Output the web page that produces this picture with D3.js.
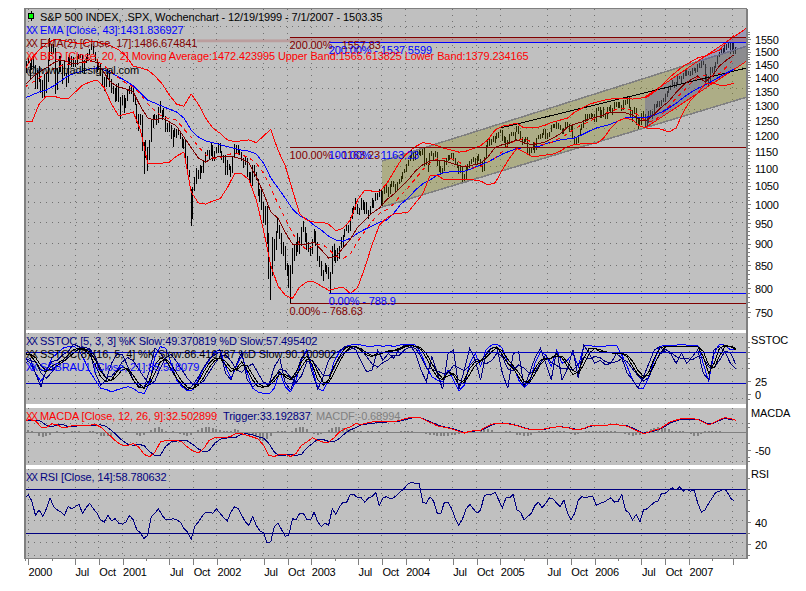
<!DOCTYPE html>
<html>
<head>
<meta charset="utf-8">
<script src="https://cdn.jsdelivr.net/npm/d3@7"></script>
<style>
  html, body { margin: 0; background: #fff; }
  svg { display: block; }
  path, line { shape-rendering: crispEdges; }
  text { font-family: "Liberation Sans", Arial, sans-serif; font-size: 11px; letter-spacing: -0.1px; }
  .grid { stroke: #707070; stroke-dasharray: 1 5; fill: none; }
  .axis path { display: none; }
  .axis line { stroke: #808080; }
  .axis text { fill: #000; font-size: 11px; letter-spacing: -0.2px; }
</style>
</head>
<body>
<div id="container"></div>
<script>
const WIDTH = 806;
const HEIGHT = 591;
const LEFT = 25;
const RIGHT = 747;

// weekly bars, first bar is 12/19/1999
const barLow = [
  1410,1418,1450,1392,1428,1436,1356,1358,1384,1345,1325,1325,1345,1385,1462,1490,1490,1339,1355,1420,1420,1375,1405,1365,1378,1450,1440,1438,1440,1448,1470,1475,1415,1413,1455,1470,1488,1505,1490,1462,1420,1430,1405,1370,1350,1365,1395,1365,1345,1340,1310,1315,1310,1255,1300,
  1275,1290,1315,1340,1340,1312,1300,1240,1215,1235,1150,1082,1130,1092,1125,1180,1225,1250,1235,1240,1275,1250,1262,1210,1210,1210,1188,1165,1195,1192,1200,1188,1160,1158,1130,1082,1075,944,960,1035,1055,1070,1070,1085,1085,1115,1135,1125,1135,1120,1120,1145,
  1145,1145,1125,1115,1080,1080,1095,1075,1085,1130,1145,1145,1140,1120,1100,1110,1075,1065,1048,1050,1075,1065,1022,1005,985,950,945,900,820,775,825,860,885,925,912,875,870,840,825,800,768,830,860,870,880,875,895,928,905,885,880,870,
  875,905,895,860,845,825,815,835,830,820,789,830,860,855,860,865,890,892,915,930,925,930,960,975,985,975,970,985,985,975,975,960,975,990,990,1008,1010,1018,995,990,1028,1030,1018,1028,1045,1045,1030,1035,1055,1060,1068,1086,
  1090,1105,1120,1130,1122,1125,1140,1138,1135,1140,1105,1108,1090,1108,1135,1125,1132,1105,1090,1080,1085,1092,1110,1120,1125,1130,1120,1108,1100,1083,1086,1060,1062,1065,1095,1100,1112,1118,1108,1108,1120,1102,1090,1092,1130,1165,1168,1170,1180,1175,1188,1192,
  1208,1182,1175,1165,1165,1172,1198,1198,1185,1210,1205,1188,1170,1172,1178,1142,1137,1145,1155,1145,1154,1188,1190,1192,1200,1190,1190,1195,1210,1225,1225,1222,1222,1218,1205,1205,1218,1228,1210,1212,1192,1170,1170,1175,1198,1218,1225,1245,1248,1255,1255,1260,
  1245,1245,1280,1258,1258,1262,1255,1255,1280,1275,1268,1280,1295,1290,1290,1280,1285,1300,1305,1290,1262,1245,1270,1235,1219,1235,1235,1260,1228,1224,1240,1265,1255,1265,1290,1295,1295,1298,1310,1312,1330,1345,1355,1365,1360,1365,1375,1395,1375,1395,1405,1405,1408,
  1405,1408,1425,1415,1420,1435,1435,1448,1375,1385,1365,1385,1415,1420,1435,1450,1480,1490,1490,1500,1505,1515,1490,1505,1490,1490
];
const barHigh = [
  1436,1462,1475,1455,1470,1478,1446,1430,1445,1395,1392,1412,1415,1470,1553,1530,1532,1515,1436,1482,1482,1450,1465,1415,1480,1488,1482,1480,1465,1482,1492,1490,1485,1465,1477,1495,1510,1530,1522,1500,1470,1460,1450,1412,1400,1410,1435,1430,1395,1370,1360,1375,1380,1330,1335,
  1335,1325,1355,1368,1376,1360,1335,1305,1270,1270,1268,1180,1185,1165,1185,1255,1268,1270,1268,1296,1315,1285,1290,1265,1240,1240,1235,1218,1225,1220,1225,1215,1195,1190,1185,1135,1095,1040,1045,1075,1100,1095,1110,1105,1125,1148,1155,1155,1175,1170,1150,1165,
  1177,1175,1150,1140,1140,1125,1112,1105,1135,1172,1170,1170,1155,1147,1130,1135,1130,1090,1090,1110,1108,1090,1070,1040,1040,1005,995,995,925,855,915,910,930,965,945,925,905,895,855,850,850,890,900,905,925,915,940,955,940,925,905,895,
  912,935,930,905,870,860,840,855,850,845,835,895,900,885,890,895,915,920,935,945,945,965,990,995,1015,1000,990,1015,1010,1005,1005,985,995,1015,1012,1030,1030,1040,1038,1035,1045,1055,1045,1055,1062,1062,1055,1060,1070,1076,1090,1098,
  1112,1125,1140,1155,1150,1150,1158,1158,1152,1165,1160,1130,1115,1145,1152,1145,1150,1148,1125,1105,1100,1125,1130,1140,1140,1145,1145,1130,1118,1105,1108,1105,1082,1102,1112,1120,1128,1132,1130,1135,1142,1128,1118,1132,1170,1188,1188,1188,1198,1198,1207,1212,
  1218,1218,1198,1195,1185,1205,1212,1212,1212,1230,1230,1215,1195,1190,1195,1195,1160,1165,1180,1178,1192,1200,1205,1208,1220,1220,1208,1212,1235,1238,1238,1245,1240,1235,1222,1225,1243,1243,1238,1235,1235,1198,1195,1200,1222,1237,1250,1270,1270,1272,1275,1272,
  1270,1290,1295,1295,1285,1295,1275,1295,1295,1300,1290,1310,1310,1310,1312,1300,1318,1318,1330,1328,1295,1285,1295,1290,1260,1260,1275,1280,1270,1262,1282,1285,1282,1305,1305,1315,1315,1320,1325,1340,1352,1368,1372,1390,1385,1385,1405,1407,1405,1415,1430,1430,1425,
  1425,1435,1435,1435,1450,1455,1462,1462,1450,1412,1405,1440,1440,1445,1460,1488,1498,1510,1515,1535,1532,1540,1540,1540,1540,1518
];

// overlays, one reading every 4 weeks
const ema43 = [1325,1336,1347,1354,1369,1387,1406,1417,1424,1432,1436,1428,1417,1402,1387,1369,1343,1318,1308,1297,1287,1277,1257,1217,1195,1183,1177,1171,1165,1159,1154,1151,1142,1115,1072,1044,1016,987,969,961,945,933,918,909,906,913,925,935,943,953,958,976,1000,1016,1038,1055,1066,1080,1087,1090,1090,1092,1101,1110,1118,1130,1142,1151,1159,1162,1162,1165,1174,1180,1186,1189,1192,1202,1214,1224,1230,1237,1247,1257,1260,1260,1260,1267,1277,1290,1307,1327,1345,1360,1372,1387,1402,1417,1431];
const ema17 = [1372,1398,1421,1436,1455,1467,1459,1451,1459,1467,1455,1417,1380,1365,1358,1347,1297,1257,1250,1257,1244,1230,1195,1162,1130,1118,1130,1136,1136,1133,1127,1115,1075,1030,979,963,928,899,897,899,904,885,866,870,890,911,940,958,976,989,1011,1027,1046,1066,1092,1110,1121,1124,1121,1115,1107,1104,1110,1115,1133,1162,1171,1177,1186,1177,1171,1174,1180,1192,1205,1227,1237,1244,1254,1260,1267,1277,1277,1274,1267,1250,1250,1270,1294,1314,1345,1372,1391,1406,1383,1406,1444,1467,1487];
const bbMiddle = [1365,1380,1398,1417,1432,1444,1451,1451,1455,1459,1462,1444,1420,1398,1380,1365,1340,1305,1280,1262,1255,1250,1220,1195,1165,1140,1130,1130,1140,1145,1140,1130,1115,1085,1045,1000,963,925,900,885,895,900,887,870,865,876,905,930,955,975,985,1000,1025,1045,1070,1095,1115,1128,1130,1128,1118,1105,1100,1105,1118,1130,1150,1175,1185,1190,1180,1172,1170,1180,1192,1205,1222,1235,1245,1258,1270,1280,1288,1290,1280,1262,1245,1248,1268,1295,1325,1350,1378,1400,1408,1405,1415,1440,1472];
const bbUpper = [1428,1475,1506,1531,1547,1547,1539,1535,1531,1539,1539,1531,1522,1506,1482,1443,1436,1428,1406,1376,1336,1304,1297,1340,1304,1257,1224,1207,1186,1180,1183,1186,1177,1198,1220,1154,1107,1038,974,958,953,953,948,931,938,958,1011,1038,1035,1033,1055,1089,1124,1148,1165,1177,1174,1168,1159,1154,1148,1151,1159,1168,1186,1217,1230,1234,1240,1224,1227,1227,1234,1244,1250,1257,1277,1290,1304,1311,1318,1322,1325,1325,1322,1325,1329,1347,1369,1398,1421,1443,1459,1475,1482,1494,1506,1539,1567];
const bbLower = [1244,1244,1304,1332,1332,1325,1322,1347,1372,1383,1391,1362,1304,1264,1270,1277,1217,1115,1115,1115,1118,1136,1148,1033,1003,1000,1008,1014,1044,1084,1084,1066,1011,933,850,804,785,778,802,813,813,804,795,799,802,788,801,844,897,945,963,974,976,979,1003,1027,1078,1080,1066,1066,1066,1066,1066,1063,1052,1058,1095,1130,1159,1148,1136,1136,1139,1142,1151,1165,1171,1174,1174,1174,1192,1224,1247,1257,1250,1230,1224,1224,1220,1211,1224,1277,1318,1343,1376,1380,1372,1372,1379];

// stochastics, one reading every 3 weeks
const stochK = [65,68,40,14,46,62,65,75,81,96,91,85,85,40,17,26,59,77,76,53,27,15,11,46,88,78,65,46,30,17,8,17,33,51,67,75,81,40,27,56,81,27,14,21,21,17,53,69,21,8,40,69,83,40,9,33,65,78,83,91,91,85,62,43,46,85,65,78,69,85,94,94,78,46,24,72,40,9,78,85,9,46,88,65,27,78,88,91,40,11,78,81,13,40,69,88,59,27,85,27,49,85,30,94,78,59,65,56,59,78,69,40,27,11,33,59,85,91,81,78,59,78,59,72,85,40,27,85,91,81,59,49];
const stochD = [60,64,62,40,30,42,55,62,70,78,88,90,87,72,48,32,34,46,62,70,64,48,32,18,25,50,70,76,62,46,30,18,18,25,42,58,72,75,64,46,42,52,58,40,22,20,30,48,45,32,22,35,62,64,50,36,35,50,70,80,86,90,86,72,58,52,60,66,75,74,85,90,88,72,50,48,44,40,40,55,50,45,55,66,65,58,64,78,72,48,45,56,50,40,42,60,75,60,55,48,50,45,58,70,68,72,70,62,60,62,68,62,48,35,25,32,58,76,86,80,72,68,68,66,72,70,52,50,65,82,80,57];
const slowK = [78,75,62,46,43,53,59,65,75,85,88,85,75,56,33,24,27,43,53,46,27,13,11,27,56,69,65,49,30,17,9,11,24,43,59,69,69,56,43,49,62,46,27,14,13,17,33,43,33,27,43,62,73,56,27,17,27,53,72,88,92,91,83,75,72,79,79,83,83,88,92,94,91,86,69,49,33,27,43,37,17,27,49,62,65,75,88,90,75,59,49,33,17,27,49,65,69,69,77,69,53,37,43,69,88,88,81,81,79,78,77,72,53,37,30,43,69,88,92,92,91,91,91,91,91,72,40,59,88,94,91,85];
const slowD = [75,77,70,55,45,47,55,61,69,79,86,87,81,66,44,30,26,34,47,49,36,20,12,18,40,62,67,58,40,24,13,10,17,32,51,64,69,63,50,46,55,54,37,21,14,15,25,38,38,30,35,52,67,65,42,22,22,40,62,80,90,91,87,79,74,75,79,81,83,85,90,93,92,89,78,59,41,30,35,40,27,22,38,55,63,70,81,89,83,67,54,41,25,22,38,57,67,69,73,73,61,45,40,56,78,88,85,81,80,78,78,75,63,45,34,36,56,78,90,92,92,91,91,91,91,82,56,50,73,91,92,88];
const blueOsc = [72,59,40,24,43,69,78,88,91,92,85,65,43,27,11,9,4,8,11,14,11,3,1,21,72,91,88,59,27,14,6,8,27,49,65,81,85,53,30,53,75,40,11,4,1,0,11,43,14,4,27,65,85,49,11,6,27,62,81,91,94,96,94,92,91,94,91,94,91,94,96,96,94,78,53,33,27,24,46,27,6,17,59,78,53,85,94,96,88,59,53,27,13,21,59,81,75,53,85,59,65,78,53,92,94,91,91,92,94,94,75,53,27,11,11,33,65,91,94,94,94,96,94,94,94,59,24,78,96,94,85,85];

// macd, one reading every 3 weeks
const macdLine = [32,34,31,14,12,23,20,12,14,19,19,17,19,21,14,0,-14,-28,-37,-37,-32,-42,-62,-69,-56,-28,-23,-25,-23,-28,-42,-53,-58,-46,-23,-16,-16,-16,-12,-3,-5,-9,-14,-19,-37,-65,-68,-62,-62,-68,-60,-37,-28,-16,-23,-28,-28,-16,0,9,14,23,21,25,28,28,28,28,28,32,37,40,41,39,31,25,17,14,11,7,2,-3,2,4,5,14,21,25,25,23,20,16,11,7,6,7,9,13,14,14,12,8,6,10,16,19,19,19,20,20,19,16,9,2,-5,0,5,9,19,29,33,37,37,37,35,27,20,26,34,40,37,33];
const macdTrigger = [30,32,33,30,18,14,20,21,15,14,18,18,18,18,20,16,4,-9,-24,-34,-37,-34,-38,-54,-66,-64,-40,-27,-25,-24,-25,-35,-47,-55,-52,-32,-20,-17,-16,-14,-6,-5,-8,-13,-17,-32,-56,-66,-64,-62,-65,-62,-44,-32,-20,-21,-26,-27,-18,-4,6,12,20,22,24,26,27,28,28,30,34,38,40,39,33,27,20,15,12,9,4,-1,1,3,4,12,19,24,25,24,21,17,12,8,7,7,8,12,14,14,13,9,7,9,15,18,19,19,20,20,19,17,11,4,-3,-1,3,8,16,26,31,35,36,36,36,29,22,25,32,38,35,33];
// macd histogram, one reading every 2 weeks
const macdHist = [4,5,3,-3,-10,-13,-12,-8,-3,3,-2,-5,-2,2,3,2,1,1,2,3,-5,-10,-12,-12,-10,-6,-4,-2,3,1,-4,-8,-10,-8,-4,5,12,14,8,3,1,2,-3,-6,-8,-10,-8,-3,6,12,15,14,12,8,5,4,2,3,8,5,-2,-6,-8,-8,-14,-22,-25,-20,-12,-3,2,4,2,-2,4,10,15,14,8,-2,-6,-8,-6,-2,6,12,14,13,10,7,8,5,3,2,1,3,2,-2,3,-2,2,-3,-4,-2,2,3,2,2,1,-2,-4,-6,-8,-8,-10,-12,-12,-10,-8,-8,-6,-4,-2,-3,-2,1,4,8,8,5,-1,-3,-1,2,3,-3,-7,-9,-10,-10,-8,-4,2,3,4,3,3,4,4,2,-3,-6,-8,-6,1,3,3,2,2,3,2,3,2,2,1,-2,-6,-9,-10,-9,-7,-2,3,8,12,13,12,10,7,4,4,3,2,0,-5,-10,-10,-6,2,3,4,3,2,-1,-2,-1];

// rsi, one reading every 2 weeks
const rsi = [61,65,59,46,51,45,52,62,54,51,49,46,54,52,54,56,48,53,57,52,48,42,40,46,41,43,39,38,40,46,42,33,30,25,28,45,48,52,46,42,42,43,42,40,34,31,24,36,40,45,49,49,48,52,48,44,41,49,54,52,46,40,37,45,37,32,30,21,22,36,39,33,27,28,43,42,48,48,42,42,49,40,36,39,37,52,47,54,58,58,65,65,62,62,58,62,63,67,55,62,63,61,62,65,68,71,75,76,75,75,58,57,63,59,48,48,58,58,52,43,37,43,52,56,52,48,51,64,65,65,67,60,53,62,62,65,51,49,42,45,48,55,58,53,57,62,61,57,54,60,48,42,48,60,63,62,63,63,55,57,58,60,62,58,59,65,51,48,42,47,40,51,52,55,58,59,66,66,69,71,69,72,68,70,68,69,57,49,51,57,62,67,68,70,68,62,59];

// x axis
const tickDates = ["2000-01-01","2000-07-01","2000-10-01","2001-01-01","2001-07-01","2001-10-01","2002-01-01","2002-07-01","2002-10-01","2003-01-01","2003-07-01","2003-10-01","2004-01-01","2004-07-01","2004-10-01","2005-01-01","2005-07-01","2005-10-01","2006-01-01","2006-07-01","2006-10-01","2007-01-01","2007-06-20"];
const tickLabels = ["2000","Jul","Oct","2001","Jul","Oct","2002","Jul","Oct","2003","Jul","Oct","2004","Jul","Oct","2005","Jul","Oct","2006","Jul","Oct","2007",""];
const minorDates = ["1999-12-20","2000-04-01","2001-04-01","2002-04-01","2003-04-01","2004-04-01","2005-04-01","2006-04-01","2007-04-01"];

// y axes and grids
const priceTicks = [750,800,850,900,950,1000,1050,1100,1150,1200,1250,1300,1350,1400,1450,1500,1550];
const priceGrid = [1604,1518,1437,1359,1287,1223,1162,1106,1058,1003,953,900,850,800,750];
const stochTicks = [0,25];
const stochLevels = [20,80];
const stochGrid = [108,50,-8];
const macdTicks = [-50];
const macdGrid = [25,-28,-83];
const rsiTicks = [20,40];
const rsiLevels = [30,70];
const rsiGrid = [64,41,21,10];

// fibonacci levels and trend channels
const fibRedStart = "2002-10-09";
const fibBlueStart = "2003-03-09";
const fibRedLevels = [768.63,1163.23,1557.83];
const fibBlueLevels = [788.9,1163.23,1537.5599];
const fibRedLabels = ["0.00% - 768.63","100.00% - 1163.23","200.00% - 1557.83"];
const fibBlueLabels = ["0.00% - 788.9","100.00% - 1163.23","200.00% - 1537.5599"];
const channelDates = ["2003-10-01","2007-08-13"];
const channelUpper = [1121,1522];
const channelLower = [992,1329];
const steepDates = ["2006-07-15","2007-08-13"];
const steepUpper = [1329,1597];
const steepLower = [1224,1463];
const trendDates = ["2005-01-01","2007-08-13"];
const trendLine = [1224,1436];

const day = d3.utcParse("%Y-%m-%d");
const firstWeek = new Date(Date.UTC(1999, 11, 19));
const weekDate = (i) => new Date(firstWeek.getTime() + i * 7 * 864e5);

const xScale = d3
  .scaleUtc()
  .domain([day("2000-01-01"), day("2007-01-01")])
  .range([28, 689]);
const yPrice = d3.scaleLog().domain([768.63, 1557.83]).range([303, 37.3]);
const yStoch = d3.scaleLinear().domain([0, 100]).range([394, 342]);
const yMacd = d3.scaleLinear().domain([0, -50]).range([432, 450]);
const yRsi = d3.scaleLinear().domain([20, 70]).range([544, 489]);

const panels = [
  { id: "main", top: 9, bottom: 330 },
  { id: "stoch", top: 333, bottom: 404 },
  { id: "macd", top: 408, bottom: 465 },
  { id: "rsi", top: 469, bottom: 558 },
];

const svg = d3
  .select("#container")
  .append("svg")
  .attr("width", WIDTH)
  .attr("height", HEIGHT);

const defs = svg.append("defs");
panels.forEach((p) => {
  defs
    .append("clipPath")
    .attr("id", "clip-" + p.id)
    .append("rect")
    .attr("x", LEFT)
    .attr("y", p.top)
    .attr("width", RIGHT - LEFT)
    .attr("height", p.bottom - p.top);
});

// grey panels, white gaps stay between them
svg
  .selectAll("rect.panel")
  .data(panels)
  .enter()
  .append("rect")
  .attr("class", "panel")
  .attr("x", LEFT)
  .attr("y", (d) => d.top)
  .attr("width", RIGHT - LEFT)
  .attr("height", (d) => d.bottom - d.top)
  .attr("fill", "#c0c0c0");

function horizontalGrid(values, scale) {
  svg
    .append("g")
    .selectAll("line")
    .data(values)
    .enter()
    .append("line")
    .attr("class", "grid")
    .attr("x1", LEFT + 3)
    .attr("x2", RIGHT)
    .attr("y1", (d) => scale(d))
    .attr("y2", (d) => scale(d));
}
horizontalGrid(priceGrid, yPrice);
horizontalGrid(stochGrid, yStoch);
horizontalGrid(macdGrid, yMacd);
horizontalGrid(rsiGrid, yRsi);

// vertical dots run through every panel
panels.forEach((p) => {
  svg
    .append("g")
    .selectAll("line")
    .data(tickDates)
    .enter()
    .append("line")
    .attr("class", "grid")
    .attr("x1", (d) => xScale(day(d)))
    .attr("x2", (d) => xScale(day(d)))
    .attr("y1", p.top)
    .attr("y2", p.bottom);
});

const main = svg.append("g").attr("clip-path", "url(#clip-main)");

// price bars go under the translucent channels
main
  .append("g")
  .selectAll("line")
  .data(barLow)
  .enter()
  .append("line")
  .attr("x1", (_, i) => xScale(weekDate(i)))
  .attr("x2", (_, i) => xScale(weekDate(i)))
  .attr("y1", (d) => yPrice(d))
  .attr("y2", (_, i) => yPrice(barHigh[i]))
  .attr("stroke", "#000")
  .attr("stroke-width", 1);

function band(dates, upper, lower, fill, edge, edgeWidth) {
  const pts = dates.map((d, i) => ({ x: xScale(day(d)), u: yPrice(upper[i]), l: yPrice(lower[i]) }));
  main
    .append("path")
    .attr("d", d3.area().x((d) => d.x).y0((d) => d.l).y1((d) => d.u)(pts))
    .attr("fill", fill);
  [upper, lower].forEach((vals) => {
    main
      .append("path")
      .attr("d", d3.line().x((d) => xScale(day(d))).y((d, i) => yPrice(vals[i]))(dates))
      .attr("fill", "none")
      .attr("stroke", edge)
      .attr("stroke-width", edgeWidth);
  });
}
band(channelDates, channelUpper, channelLower, "rgba(128,128,0,0.3)", "#808080", 1.5);
band(steepDates, steepUpper, steepLower, "rgba(80,80,160,0.35)", "#ff0000", 1);

main
  .append("path")
  .attr("d", d3.line().x((d) => xScale(day(d))).y((d, i) => yPrice(trendLine[i]))(trendDates))
  .attr("fill", "none")
  .attr("stroke", "#000")
  .attr("stroke-width", 1);

function seriesLine(parent, values, stepWeeks, yScale, color, dash) {
  const line = d3
    .line()
    .x((_, i) => xScale(weekDate(i * stepWeeks)))
    .y((d) => yScale(d));
  parent
    .append("path")
    .attr("d", line(values))
    .attr("fill", "none")
    .attr("stroke", color)
    .attr("stroke-width", 1)
    .attr("stroke-dasharray", dash || null);
}
seriesLine(main, ema43, 4, yPrice, "#0000ff");
seriesLine(main, bbUpper, 4, yPrice, "#ff0000");
seriesLine(main, bbLower, 4, yPrice, "#ff0000");
seriesLine(main, bbMiddle, 4, yPrice, "#ff0000", "4 4");
seriesLine(main, ema17, 4, yPrice, "#800000");

// pink strip between the two top levels
main
  .append("rect")
  .attr("x", xScale(day("2001-10-15")))
  .attr("width", xScale(day(fibRedStart)) - xScale(day("2001-10-15")))
  .attr("y", yPrice(1549))
  .attr("height", yPrice(1537.56) - yPrice(1549))
  .attr("fill", "rgba(170,50,50,0.25)");
main
  .append("rect")
  .attr("x", xScale(day(fibRedStart)))
  .attr("width", RIGHT - xScale(day(fibRedStart)))
  .attr("y", yPrice(1557.83))
  .attr("height", yPrice(1537.56) - yPrice(1557.83))
  .attr("fill", "rgba(170,50,50,0.25)");

function fibLines(levels, start, color) {
  main
    .append("g")
    .selectAll("line")
    .data(levels)
    .enter()
    .append("line")
    .attr("x1", xScale(day(start)))
    .attr("x2", RIGHT)
    .attr("y1", (d) => yPrice(d))
    .attr("y2", (d) => yPrice(d))
    .attr("stroke", color)
    .attr("stroke-width", 1);
}
fibLines(fibBlueLevels, fibBlueStart, "#0000ff");
fibLines(fibRedLevels, fibRedStart, "#800000");

function fibText(levels, labels, start, color, offset) {
  svg
    .append("g")
    .selectAll("text")
    .data(labels)
    .enter()
    .append("text")
    .attr("x", xScale(day(start)))
    .attr("y", (_, i) => yPrice(levels[i]) + offset)
    .attr("fill", color)
    .text((d) => d);
}
fibText(fibRedLevels, fibRedLabels, fibRedStart, "#800000", 12);
fibText(fibBlueLevels, fibBlueLabels, fibBlueStart, "#0000ff", 12);

// stochastic panel
const stoch = svg.append("g").attr("clip-path", "url(#clip-stoch)");
function levels(parent, values, scale) {
  parent
    .append("g")
    .selectAll("line")
    .data(values)
    .enter()
    .append("line")
    .attr("x1", LEFT)
    .attr("x2", RIGHT)
    .attr("y1", (d) => scale(d))
    .attr("y2", (d) => scale(d))
    .attr("stroke", "#000080")
    .attr("stroke-width", 1);
}
seriesLine(stoch, blueOsc, 3, yStoch, "#0000ff");
seriesLine(stoch, stochD, 3, yStoch, "#000080");
seriesLine(stoch, stochK, 3, yStoch, "#000080");
seriesLine(stoch, slowD, 3, yStoch, "#000");
seriesLine(stoch, slowK, 3, yStoch, "#000");
stoch
  .append("g")
  .selectAll("line")
  .data(stochLevels)
  .enter()
  .append("line")
  .attr("x1", LEFT)
  .attr("x2", RIGHT)
  .attr("y1", (d) => yStoch(d))
  .attr("y2", (d) => yStoch(d))
  .attr("stroke", "#0000c0")
  .attr("stroke-width", 1);

// macd panel
const macd = svg.append("g").attr("clip-path", "url(#clip-macd)");
macd
  .append("line")
  .attr("x1", LEFT)
  .attr("x2", RIGHT)
  .attr("y1", yMacd(0))
  .attr("y2", yMacd(0))
  .attr("stroke", "#808080");
macd
  .append("g")
  .selectAll("line")
  .data(macdHist)
  .enter()
  .append("line")
  .attr("x1", (_, i) => xScale(weekDate(i * 2)))
  .attr("x2", (_, i) => xScale(weekDate(i * 2)))
  .attr("y1", yMacd(0))
  .attr("y2", (d) => yMacd(d))
  .attr("stroke", "#808080")
  .attr("stroke-width", 2);
seriesLine(macd, macdTrigger, 3, yMacd, "#000080");
seriesLine(macd, macdLine, 3, yMacd, "#ff0000");

// rsi panel
const rsiPanel = svg.append("g").attr("clip-path", "url(#clip-rsi)");
levels(rsiPanel, rsiLevels, yRsi);
seriesLine(rsiPanel, rsi, 2, yRsi, "#000080");

// frame
svg
  .append("path")
  .attr("d", `M${LEFT},558.5V8.5H${RIGHT}`)
  .attr("fill", "none")
  .attr("stroke", "#808080")
  .attr("stroke-width", 1.6);
svg
  .append("path")
  .attr("d", `M${LEFT},558.5H${RIGHT}V8.5`)
  .attr("fill", "none")
  .attr("stroke", "#808080")
  .attr("stroke-width", 1.6);

// right axes, labelled ticks then the short unlabelled ones
function rightAxis(scale, ticks, minor) {
  const g = svg.append("g").attr("class", "axis").attr("transform", `translate(${RIGHT},0)`);
  g.call(d3.axisRight(scale).tickValues(ticks).tickSize(4).tickPadding(4).tickFormat((d) => d));
  g.selectAll("text").attr("dy", "0.38em");
  const m = svg.append("g").attr("class", "axis").attr("transform", `translate(${RIGHT},0)`);
  m.call(d3.axisRight(scale).tickValues(minor).tickSize(3).tickFormat(""));
}
rightAxis(yPrice, priceTicks, d3.range(740, 1590, 10));
rightAxis(yStoch, stochTicks, [-10, 50, 60, 70, 80, 90, 100]);
rightAxis(yMacd, macdTicks, [-80, -70, -30, 15, 25]);
rightAxis(yRsi, rsiTicks, [10, 30, 50, 60, 70, 80]);

// bottom axis
const xAxis = d3
  .axisBottom(xScale)
  .tickValues(tickDates.map(day))
  .tickSize(6)
  .tickPadding(3)
  .tickFormat((_, i) => tickLabels[i]);
const axisG = svg
  .append("g")
  .attr("class", "axis")
  .attr("transform", "translate(0,559)")
  .call(xAxis);
axisG.selectAll("text").attr("text-anchor", "start").attr("dy", "0.75em");
svg
  .append("g")
  .attr("class", "axis")
  .attr("transform", "translate(0,559)")
  .call(d3.axisBottom(xScale).tickValues(minorDates.map(day)).tickSize(2).tickFormat(""));

// legend lines, each with its two little crosses in front
const legend = [
  { y: 34, color: "#0000ff", text: "EMA [Close, 43]:1431.836927" },
  { y: 47, color: "#800000", text: "EMA(2) [Close, 17]:1486.674841" },
  { y: 60, color: "#ff0000", text: "BBD [Close, 20, 2] Moving Average:1472.423995 Upper Band:1565.613825 Lower Band:1379.234165" },
  { y: 345, color: "#000080", text: "SSTOC [5, 3, 3] %K Slow:49.370819 %D Slow:57.495402" },
  { y: 358, color: "#000", text: "SSTOC(8) [16, 5, 4] %K Slow:86.416787 %D Slow:90.100902" },
  { y: 371, color: "#0000ff", text: "SSBRAU1 [Close, 21]:85.518079" },
  { y: 420, color: "#ff0000", text: "MACDA [Close, 12, 26, 9]:32.502899" },
  { y: 481, color: "#000080", text: "RSI [Close, 14]:58.780632" },
];
const legendG = svg.append("g").selectAll("g").data(legend).enter().append("g");
legendG
  .append("text")
  .attr("x", 26)
  .attr("y", (d) => d.y)
  .attr("fill", (d) => d.color)
  .style("font-size", "10px")
  .style("letter-spacing", "-1.5px")
  .text("XX");
legendG
  .append("text")
  .attr("x", 40)
  .attr("y", (d) => d.y)
  .attr("fill", (d) => d.color)
  .text((d) => d.text);

svg.append("text").attr("x", 40).attr("y", 21).attr("fill", "#000")
  .text("S&P 500 INDEX, .SPX, Wochenchart - 12/19/1999 - 7/1/2007 - 1503.35");
svg.append("text").attr("x", 26).attr("y", 74).attr("fill", "#000").text("@www.tradesignal.com");
svg.append("text").attr("x", 223).attr("y", 420).attr("fill", "#000080").text("Trigger:33.192837");
svg.append("text").attr("x", 316).attr("y", 420).attr("fill", "#808080").text("MACDF:-0.68994");

svg.append("line").attr("x1", 31).attr("x2", 31).attr("y1", 11).attr("y2", 21).attr("stroke", "#000");
svg.append("rect").attr("x", 28.5).attr("y", 13.5).attr("width", 5).attr("height", 5).attr("fill", "#00ff00").attr("stroke", "#000");

// panel names on the right margin
[["SSTOC", 344], ["MACDA", 417], ["RSI", 478]].forEach(([name, y]) => {
  svg.append("text").attr("x", 751).attr("y", y).text(name);
});
</script>
</body>
</html>
